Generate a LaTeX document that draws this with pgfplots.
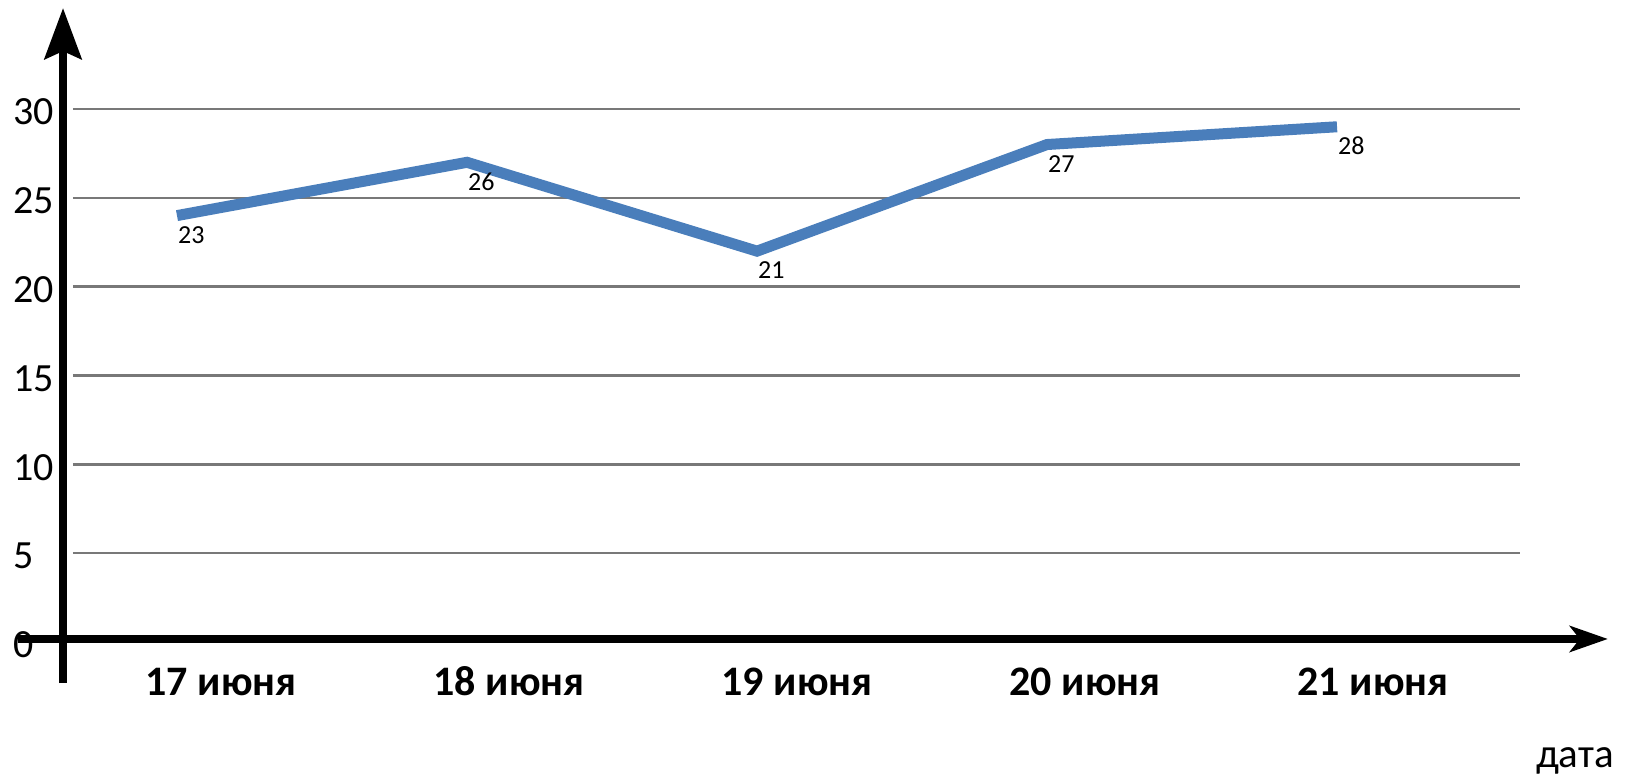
\documentclass[border=0pt]{standalone}
\usepackage{fontspec}
\setmainfont{Carlito}
\usepackage{pgfplots}
\pgfplotsset{compat=1.18}
\usetikzlibrary{arrows.meta}
\definecolor{lineblue}{RGB}{74,126,187}
\definecolor{gridgray}{RGB}{120,120,120}
\begin{document}
\begin{tikzpicture}
\useasboundingbox (-36.5pt,-69.5pt) rectangle (782pt,321pt);
\begin{axis}[
  at={(0,0)}, anchor=south west,
  scale only axis,
  width=723.5pt, height=266.5pt,
  xmin=-0.3586, xmax=4.631,
  ymin=0, ymax=30,
  clip=false,
  axis line style={draw=none},
  tick style={draw=none},
  major tick length=0pt,
  ymajorgrids,
  grid style={gridgray, line width=1.3pt},
  ytick={0,5,10,15,20,25,30},
  yticklabels={0,5,10,15,20,25,30},
  yticklabel style={anchor=west, inner sep=0pt, xshift=-30pt, yshift=-1.5pt,
    font=\fontsize{20pt}{24pt}\selectfont},
  xtick={0.152,1.145,2.138,3.131,4.124},
  xticklabels={17 июня,18 июня,19 июня,20 июня,21 июня},
  xticklabel style={anchor=base, inner sep=0pt, yshift=-26.5pt,
    font=\fontsize{21pt}{25pt}\selectfont\bfseries},
  xlabel={дата},
  xlabel style={at={(axis description cs:1.038,-0.236)}, anchor=base, inner sep=0pt,
    font=\fontsize{20.5pt}{24pt}\selectfont},
  /pgf/number format/assume math mode=true,
]
\addplot[lineblue, line width=5.5pt, line join=miter,
  point meta=explicit symbolic,
  nodes near coords,
  nodes near coords style={anchor=center, xshift=7.2pt, yshift=-9.6pt,
    text=black, font=\fontsize{13pt}{15pt}\selectfont},
] coordinates {
  (0,24) [23]
  (1,27) [26]
  (2,22) [21]
  (3,28) [27]
  (4,29) [28]
};
% axes with arrows
\draw[line width=4pt, -{Stealth[length=19pt, width=13pt, inset=5pt]}]
  (axis cs:-0.548,0.17) -- (axis cs:4.934,0.17);
\draw[line width=3.8pt, -{Stealth[length=25.5pt, width=18.5pt, inset=4pt]}]
  (axis cs:-0.393,-2.31) -- (axis cs:-0.393,35.68);
\end{axis}
\end{tikzpicture}
\end{document}
